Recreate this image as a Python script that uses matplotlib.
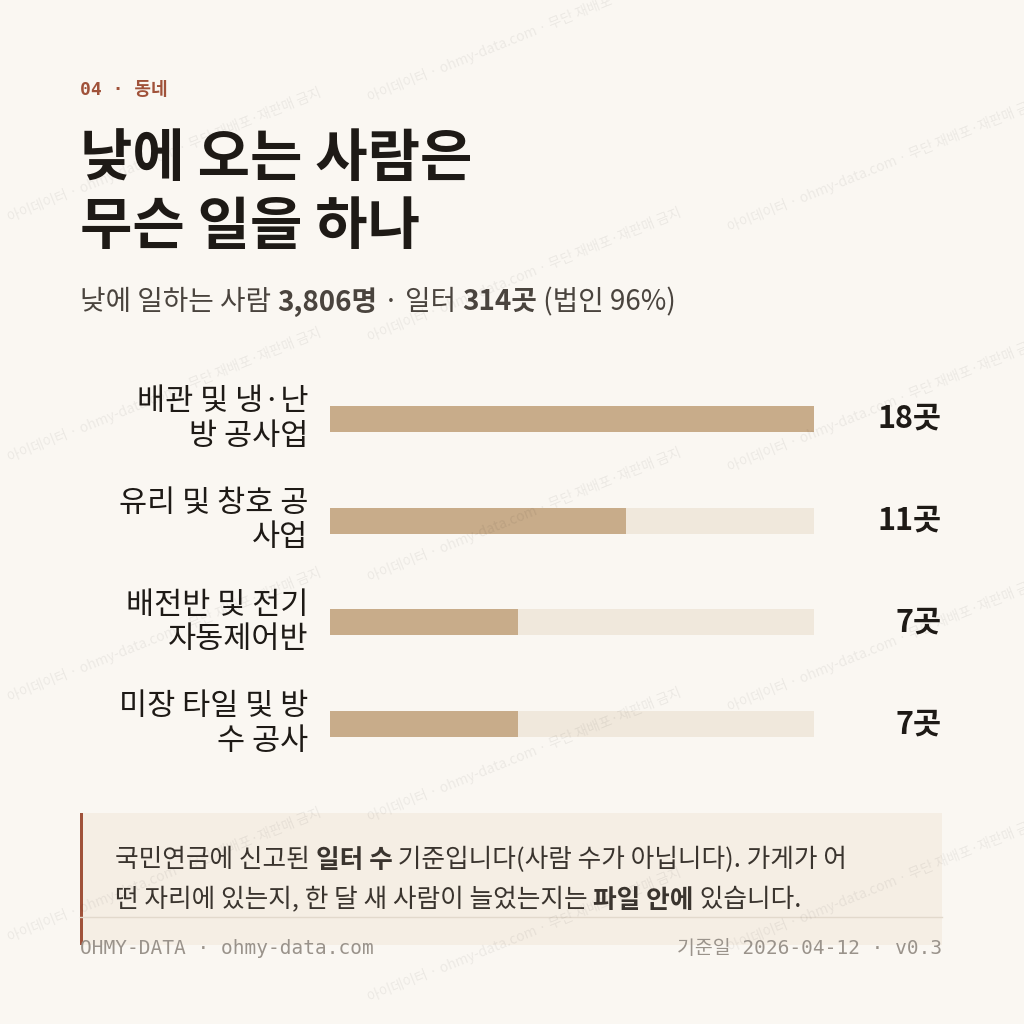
import matplotlib
matplotlib.use("Agg")
import matplotlib.pyplot as plt
from matplotlib.patches import Rectangle

categories = ["배관 및 냉·난\n방 공사업", "유리 및 창호 공\n사업", "배전반 및 전기\n자동제어반", "미장 타일 및 방\n수 공사"]
values = [18, 11, 7, 7]
value_labels = ["18곳", "11곳", "7곳", "7곳"]
max_value = 18

BG = "#FAF7F2"
KR = ["Noto Sans CJK KR", "DejaVu Sans"]
MONO = ["DejaVu Sans Mono", "Noto Sans CJK KR"]

fig = plt.figure(figsize=(10.24, 10.24), dpi=100, facecolor=BG)
W = H = 1024.0
def fx(x): return x / W
def fy(y): return 1 - y / H

# watermark (kept inside the canvas)
for (x0, y0) in [(0, 230), (360, 110), (720, 0), (0, 470), (360, 350), (720, 240),
                 (0, 710), (360, 590), (720, 480), (0, 950), (360, 830), (720, 720),
                 (360, 1010), (720, 960)]:
    fig.text(fx(x0 + 5), fy(y0 - 5), "아이데이터 · ohmy-data.com · 무단 재배포·재판매 금지",
             rotation=22, fontsize=10, color="#000000", alpha=0.06, family=KR,
             ha="left", va="bottom", clip_on=True)

renderer = fig.canvas.get_renderer()
def runs(x, y, parts, size, color):
    for txt, weight in parts:
        t = fig.text(fx(x), fy(y), txt, fontsize=size, color=color, weight=weight,
                     family=KR, va="center", ha="left")
        bb = t.get_window_extent(renderer=renderer)
        x += bb.width

fig.text(fx(80), fy(90), "04 · 동네", family=MONO, fontsize=13, color="#A0523A",
         weight="bold", va="center")
fig.text(fx(80), fy(193), "낮에 오는 사람은\n무슨 일을 하나", family=KR, fontsize=41,
         weight="bold", color="#1E1A16", va="center", linespacing=1.2)
runs(80, 302, [("낮에 일하는 사람 ", "normal"), ("3,806명", "bold"), (" · 일터 ", "normal"),
               ("314곳", "bold"), (" (법인 96%)", "normal")], 20, "#4A443E")

ax = fig.add_axes([fx(330), fy(775), fx(814) - fx(330), (775 - 368) / H])
ax.set_facecolor("none")
ys = list(range(len(values)))
ax.barh(ys, [max_value] * len(values), height=0.255, color="#F0E8DC")
ax.barh(ys, values, height=0.255, color="#C8AC8A")
ax.set_xlim(0, max_value)
ax.set_ylim(3.5, -0.5)
ax.axis("off")
for i, (c, v) in enumerate(zip(categories, value_labels)):
    ax.text(-0.045, i, c, transform=ax.get_yaxis_transform(), ha="right", va="center",
            family=KR, fontsize=22, color="#1E1A16", linespacing=1.15)
    ax.text(max_value * (942 - 330) / (814 - 330), i, v, ha="right", va="center",
            family=KR, fontsize=22, weight="bold", color="#1E1A16")

fig.patches.append(Rectangle((fx(80), fy(945)), fx(942) - fx(80), (945 - 813) / H,
                             transform=fig.transFigure, facecolor="#F5EEE4", edgecolor="none"))
fig.patches.append(Rectangle((fx(80), fy(945)), 3 / W, (945 - 813) / H,
                             transform=fig.transFigure, facecolor="#A0523A", edgecolor="none"))
runs(115, 860, [("국민연금에 신고된 ", "normal"), ("일터 수", "bold"),
                (" 기준입니다(사람 수가 아닙니다). 가게가 어", "normal")], 18.5, "#3A342E")
runs(115, 900, [("떤 자리에 있는지, 한 달 새 사람이 늘었는지는 ", "normal"), ("파일 안에", "bold"),
                (" 있습니다.", "normal")], 18.5, "#3A342E")

fig.add_artist(plt.Line2D([fx(80), fx(942)], [fy(917), fy(917)], color="#E2D9CC", lw=1))
fig.text(fx(80), fy(948), "OHMY-DATA · ohmy-data.com", family=MONO, fontsize=14,
         color="#9A938B", va="center")
fig.text(fx(942), fy(948), "기준일 2026-04-12 · v0.3", family=MONO, fontsize=14,
         color="#9A938B", va="center", ha="right")

fig.savefig("out.png", dpi=100, facecolor=BG)
